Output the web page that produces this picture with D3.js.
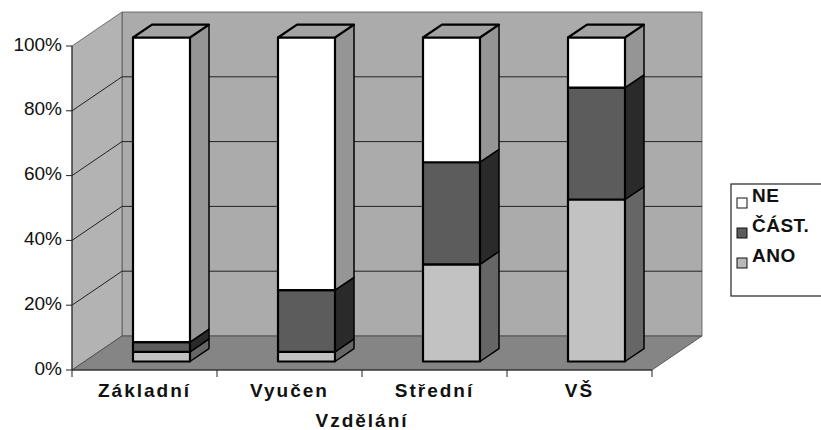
<!DOCTYPE html>
<html>
<head>
<meta charset="utf-8">
<script src="https://cdn.jsdelivr.net/npm/d3@7"></script>
<style>
  body { margin: 0; background: #fff; }
  svg { display: block; font-family: Arial, "Liberation Sans", sans-serif; }
</style>
</head>
<body>
<div id="chart"></div>
<script>
const categories = ["Základní", "Vyučen", "Střední", "VŠ"];
const seriesNames = ["ANO", "ČÁST.", "NE"];
const ano = [3, 3, 30, 50];
const cast = [3, 19, 31.5, 34.5];
const ne = [94, 78, 38.5, 15.5];
const yTicks = [0, 20, 40, 60, 80, 100];
const axisTitle = "Vzdělání";

const width = 821, height = 430;
// depth of the 3d box
const DX = 50, DY = 34;
const f0 = 0.25, f1 = 0.63;
const barW = 57;

const colors = { "ANO": "#c2c2c2", "ČÁST.": "#5c5c5c", "NE": "#ffffff" };
const sideColors = { "ANO": "#666666", "ČÁST.": "#2a2a2a", "NE": "#959595" };

const rows = categories.map((c, i) => ({ cat: c, "ANO": ano[i], "ČÁST.": cast[i], "NE": ne[i] }));
const stacked = d3.stack().keys(seriesNames)(rows);

const x = d3.scaleBand().domain(categories).range([72, 652]);
const y = d3.scaleLinear().domain([0, 100]).range([370, 46]);

const svg = d3.select("#chart").append("svg")
    .attr("width", width)
    .attr("height", height);

const P = (px, v, f) => [px + f * DX, y(v) - f * DY];
const poly = pts => "M" + pts.map(p => p.join(",")).join("L") + "Z";

const x0 = x.range()[0], x1 = x.range()[1];

// walls and floor
svg.append("path")
    .attr("d", poly([P(x0, 0, 1), P(x0, 100, 1), P(x1, 100, 1), P(x1, 0, 1)]))
    .attr("fill", "#ababab").attr("stroke", "#555").attr("stroke-width", 0.8);
svg.append("path")
    .attr("d", poly([P(x0, 0, 0), P(x0, 100, 0), P(x0, 100, 1), P(x0, 0, 1)]))
    .attr("fill", "#b3b3b3").attr("stroke", "#555").attr("stroke-width", 0.8);
svg.append("path")
    .attr("d", poly([P(x0, 0, 0), P(x1, 0, 0), P(x1, 0, 1), P(x0, 0, 1)]))
    .attr("fill", "#858585").attr("stroke", "#444").attr("stroke-width", 0.8);

// gridlines
const grid = yTicks.filter(v => v > 0 && v < 100);
svg.append("g").selectAll("path").data(grid).join("path")
    .attr("d", v => "M" + P(x0, v, 0) + "L" + P(x0, v, 1) + "L" + P(x1, v, 1))
    .attr("fill", "none").attr("stroke", "#222").attr("stroke-width", 1);

// y axis
svg.append("line")
    .attr("x1", x0).attr("x2", x0).attr("y1", y(0)).attr("y2", y(100))
    .attr("stroke", "#222").attr("stroke-width", 1);
const yAxis = svg.append("g");
yAxis.selectAll("line").data(yTicks).join("line")
    .attr("x1", x0 - 6).attr("x2", x0).attr("y1", d => y(d)).attr("y2", d => y(d))
    .attr("stroke", "#222");
yAxis.selectAll("text").data(yTicks).join("text")
    .attr("x", x0 - 10).attr("y", d => y(d) - 2)
    .attr("text-anchor", "end").attr("dominant-baseline", "central")
    .attr("font-size", 19).attr("fill", "#111")
    .text(d => d + "%");

// x axis line and ticks
svg.append("line")
    .attr("x1", x0).attr("x2", x1).attr("y1", y(0)).attr("y2", y(0))
    .attr("stroke", "#222").attr("stroke-width", 1.2);
svg.append("g").selectAll("line").data(categories.map(c => x(c)).concat([x1])).join("line")
    .attr("x1", d => d).attr("x2", d => d).attr("y1", y(0)).attr("y2", y(0) + 7)
    .attr("stroke", "#222");
svg.append("g").selectAll("text").data(categories).join("text")
    .attr("x", d => x(d) + x.bandwidth() / 2)
    .attr("y", 397)
    .attr("text-anchor", "middle")
    .attr("font-size", 19).attr("font-weight", "bold").attr("letter-spacing", 2)
    .attr("fill", "#111")
    .text(d => d);
svg.append("text")
    .attr("x", (x0 + x1) / 2).attr("y", 427)
    .attr("text-anchor", "middle")
    .attr("font-size", 19).attr("font-weight", "bold").attr("letter-spacing", 2)
    .attr("fill", "#111")
    .text(axisTitle);

// bars
const barLeft = c => x(c) + x.bandwidth() / 2 - barW / 2 + 4.5;
const bars = svg.append("g");
categories.forEach((c, i) => {
    const g = bars.append("g");
    const bl = barLeft(c), br = bl + barW;
    stacked.forEach(s => {
        const v0 = s[i][0], v1 = s[i][1];
        if (v1 - v0 <= 0) return;
        g.append("path")
            .attr("d", poly([P(br, v0, f0), P(br, v0, f1), P(br, v1, f1), P(br, v1, f0)]))
            .attr("fill", sideColors[s.key]).attr("stroke", "#000").attr("stroke-width", 1.5)
            .attr("stroke-linejoin", "round");
        g.append("path")
            .attr("d", poly([P(bl, v0, f0), P(br, v0, f0), P(br, v1, f0), P(bl, v1, f0)]))
            .attr("fill", colors[s.key]).attr("stroke", "#000").attr("stroke-width", 2.2)
            .attr("stroke-linejoin", "round");
    });
    const top = stacked[stacked.length - 1][i][1];
    g.append("path")
        .attr("d", poly([P(bl, top, f0), P(br, top, f0), P(br, top, f1), P(bl, top, f1)]))
        .attr("fill", "#a3a3a3").attr("stroke", "#000").attr("stroke-width", 2.2)
        .attr("stroke-linejoin", "round");
});

// legend
const legend = svg.append("g").attr("transform", "translate(731,184)");
legend.append("rect")
    .attr("width", 100).attr("height", 112)
    .attr("fill", "#fff").attr("stroke", "#222").attr("stroke-width", 1.2);
const legendItems = seriesNames.slice().reverse();
const li = legend.selectAll("g.item").data(legendItems).join("g")
    .attr("class", "item")
    .attr("transform", (d, i) => "translate(6," + (14 + i * 30) + ")");
li.append("rect")
    .attr("width", 10).attr("height", 10)
    .attr("fill", d => d === "NE" ? "#fff" : (d === "ANO" ? "#b8b8b8" : "#5c5c5c"))
    .attr("stroke", "#111").attr("stroke-width", 1);
li.append("text")
    .attr("x", 15).attr("y", 4)
    .attr("font-size", 19).attr("font-weight", "bold").attr("letter-spacing", 0.5)
    .attr("fill", "#111")
    .text(d => d);
</script>
</body>
</html>
